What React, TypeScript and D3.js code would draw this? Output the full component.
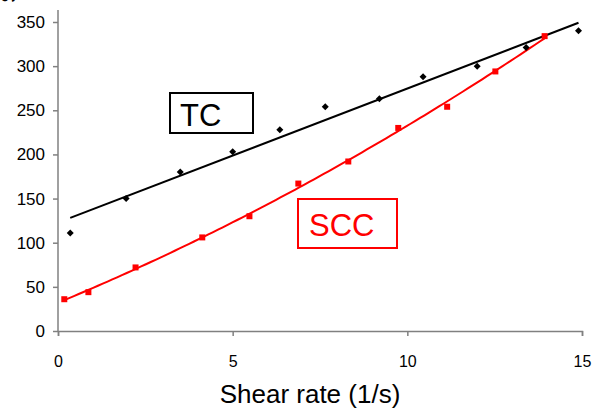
import * as d3 from "d3";
import { useEffect, useRef } from "react";

// TC (black diamonds)
const tcX = [0.35, 1.95, 3.5, 5.0, 6.35, 7.65, 9.2, 10.45, 12.0, 13.4, 14.9];
const tcY = [111, 150, 180, 203, 228, 254, 263, 288, 300, 321, 340];

// SCC (red squares)
const sccX = [0.18, 0.87, 2.22, 4.13, 5.48, 6.88, 8.31, 9.74, 11.14, 12.52, 13.93];
const sccY = [36, 44, 72, 106, 130, 167, 192, 230, 254, 294, 334];

const xTicks = [0, 5, 10, 15];
const yTicks = [0, 50, 100, 150, 200, 250, 300, 350];
const xTitle = "Shear rate (1/s)";

// least squares polynomial fit, returns coefficients c0 + c1 x + c2 x^2 ...
function polyfit(xs: number[], ys: number[], order: number) {
  const n = order + 1;
  const A: number[][] = [];
  for (let i = 0; i < n; i++) {
    A.push([]);
    for (let j = 0; j <= n; j++) A[i].push(0);
  }
  xs.forEach((x, k) => {
    for (let i = 0; i < n; i++) {
      for (let j = 0; j < n; j++) A[i][j] += Math.pow(x, i + j);
      A[i][n] += Math.pow(x, i) * ys[k];
    }
  });
  for (let i = 0; i < n; i++) {
    for (let r = i + 1; r < n; r++) {
      const f = A[r][i] / A[i][i];
      for (let c = i; c <= n; c++) A[r][c] -= f * A[i][c];
    }
  }
  const coef = new Array(n).fill(0);
  for (let i = n - 1; i >= 0; i--) {
    let s = A[i][n];
    for (let j = i + 1; j < n; j++) s -= A[i][j] * coef[j];
    coef[i] = s / A[i][i];
  }
  return coef;
}

export default function App() {
  const ref = useRef<SVGSVGElement>(null);

  useEffect(() => {
    const svg = d3.select(ref.current);
    svg.selectAll("*").remove();

    const x = d3.scaleLinear().domain([0, 15]).range([58, 582]);
    const y = d3.scaleLinear().domain([0, 350]).range([331, 22]);
    const font = "Arial, 'Liberation Sans', sans-serif";
    const axisColor = "#808080";

    // axes
    const gx = svg
      .append("g")
      .attr("transform", `translate(0,${y(0)})`)
      .call(d3.axisBottom(x).tickValues(xTicks).tickSize(5).tickPadding(20));
    gx.select(".domain").attr("stroke", axisColor).attr("stroke-width", 1.5);
    gx.selectAll(".tick line").attr("stroke", axisColor).attr("stroke-width", 1.5);
    gx.selectAll(".tick text")
      .attr("fill", "#000")
      .style("font", `16px ${font}`);

    const gy = svg
      .append("g")
      .attr("transform", `translate(${x(0)},0)`)
      .call(d3.axisLeft(y).tickValues(yTicks).tickSize(5).tickPadding(8));
    gy.select(".domain")
      .attr("d", `M0,${y(0)}V10`)
      .attr("stroke", axisColor)
      .attr("stroke-width", 1.5);
    gy.selectAll(".tick line").attr("stroke", axisColor).attr("stroke-width", 1.5);
    gy.selectAll(".tick text")
      .attr("fill", "#000")
      .style("font", `17px ${font}`);

    // x title
    svg
      .append("text")
      .attr("x", 310)
      .attr("y", 403)
      .attr("text-anchor", "middle")
      .style("font", `26px ${font}`)
      .text(xTitle);

    // y title, mostly outside the picture as in the source
    svg
      .append("text")
      .attr("transform", "translate(16,3) rotate(-90)")
      .attr("text-anchor", "start")
      .style("font", `22px ${font}`)
      .text("Stress (Pa)");

    // TC trend line
    const tcFit = polyfit(tcX, tcY, 1);
    const tcLine = d3
      .line<number>()
      .x((d) => x(d))
      .y((d) => y(tcFit[0] + tcFit[1] * d));
    svg
      .append("path")
      .attr("d", tcLine([d3.min(tcX)!, d3.max(tcX)!]))
      .attr("fill", "none")
      .attr("stroke", "#000")
      .attr("stroke-width", 2);

    // SCC trend curve
    const sccFit = polyfit(sccX, sccY, 2);
    const lo = d3.min(sccX)!,
      hi = d3.max(sccX)!;
    const xs = d3.range(0, 101).map((i) => lo + ((hi - lo) * i) / 100);
    const sccLine = d3
      .line<number>()
      .x((d) => x(d))
      .y((d) => y(sccFit[0] + sccFit[1] * d + sccFit[2] * d * d));
    svg
      .append("path")
      .attr("d", sccLine(xs))
      .attr("fill", "none")
      .attr("stroke", "#ff0000")
      .attr("stroke-width", 2);

    // markers
    svg
      .append("g")
      .selectAll("path")
      .data(tcX)
      .join("path")
      .attr("transform", (d, i) => `translate(${x(d)},${y(tcY[i])})`)
      .attr("d", "M0,-3.5L3.5,0L0,3.5L-3.5,0Z")
      .attr("fill", "#000");

    svg
      .append("g")
      .selectAll("rect")
      .data(sccX)
      .join("rect")
      .attr("x", (d) => x(d) - 3)
      .attr("y", (d, i) => y(sccY[i]) - 3)
      .attr("width", 6)
      .attr("height", 6)
      .attr("fill", "#ff0000");

    // labels
    svg
      .append("rect")
      .attr("x", 170)
      .attr("y", 93)
      .attr("width", 83)
      .attr("height", 40)
      .attr("fill", "#fff")
      .attr("stroke", "#000")
      .attr("stroke-width", 2);
    svg
      .append("text")
      .attr("x", 180)
      .attr("y", 126)
      .style("font", `31px ${font}`)
      .text("TC");

    svg
      .append("rect")
      .attr("x", 298)
      .attr("y", 199)
      .attr("width", 99)
      .attr("height", 49)
      .attr("fill", "#fff")
      .attr("stroke", "#ff0000")
      .attr("stroke-width", 2);
    svg
      .append("text")
      .attr("x", 309)
      .attr("y", 236)
      .attr("fill", "#ff0000")
      .style("font", `31px ${font}`)
      .text("SCC");
  }, []);

  return (
    <svg
      ref={ref}
      width={593}
      height={409}
      style={{ position: "absolute", left: 0, top: 0, background: "#fff" }}
    />
  );
}
